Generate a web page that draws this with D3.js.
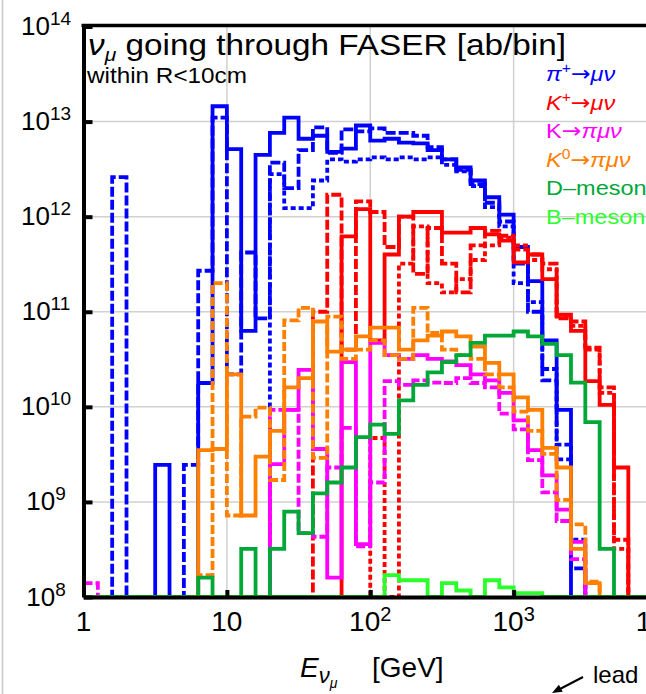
<!DOCTYPE html>
<html>
<head>
<meta charset="utf-8">
<script src="https://cdn.jsdelivr.net/npm/d3@7"></script>
<style>
  body { margin: 0; background: #fff; }
  svg { display: block; font-family: "Liberation Sans", Arial, sans-serif; }
</style>
</head>
<body>
<div id="chart"></div>
<script>
// log10(E/GeV) bins of width 0.1, from 1 GeV to 10^4 GeV
const binEdges = d3.range(0, 41).map(k => Math.pow(10, k / 10));

// nu_mu per bin [ab/bin], 40 bins each (0 = below the plotted range)
const blueSolid = [0,0,0,0,0, 2.45e9,0,0,1.78e10,1.45e13, 5.13e12,6.3e10,4.47e12,7.6e12,1.1e13,
  6.6e12,7.1e12,4.8e12,5.2e12,9.1e12, 6.3e12,6.6e12,6.0e12,5.9e12,5.0e12,
  4.0e12,3.3e12,2.4e12,1.6e12,1.05e12, 4.8e11,2.1e11,5.0e10,9.3e9,0, 0,0,0,0,0];
const blueDash = [0,0,2.6e12,0,0, 0,0,2.45e9,2.7e11,1.1e13, 2.2e10,4.2e11,8.5e10,3.7e12,2.0e12,
  5.0e12,8.7e12,4.7e12,8.3e12,7.9e12, 8.5e12,7.6e12,7.6e12,7.1e12,5.4e12,
  4.0e12,3.1e12,2.2e12,1.4e12,8.9e11, 3.2e11,1.0e11,1.9e10,2.8e9,2.0e8, 0,0,0,0,0];
const blueFine = [0,0,0,0,0, 0,0,0,0,0, 0,0,0,2.8e12,1.23e12,
  1.23e12,2.4e12,4.0e12,3.8e12,4.0e12, 4.2e12,4.0e12,4.2e12,4.0e12,4.2e12,
  3.5e12,3.0e12,2.1e12,1.26e12,7.9e11, 2.0e11,1.26e11,2.5e10,4.0e9,4.0e8, 0,0,0,0,0];

const redSolid = [0,0,0,0,0, 0,0,0,0,0, 0,0,0,0,0,
  0,0,0,6.2e11,1.2e12, 5.0e10,4.0e11,1.0e12,1.12e12,1.12e12,
  6.8e11,6.8e11,7.6e11,6.5e11,5.6e11, 3.3e11,4.0e11,2.2e11,9.3e10,6.3e10, 1.86e10,1.05e10,2.3e9,0,0];
const redDash = [0,0,0,0,0, 0,0,0,0,0, 0,0,0,0,0,
  0,1.0e11,1.7e12,4.0e10,1.45e12, 1.12e12,4.8e11,1.0e12,2.5e11,7.6e11,
  3.2e11,1.6e11,5.0e11,7.1e11,6.3e11, 4.5e11,4.0e11,3.2e11,8.5e10,7.9e10, 4.2e10,1.6e10,4.0e8,0,0];
const redDot = [0,0,0,0,0, 0,0,0,0,0, 0,0,0,0,0,
  0,0,0,0,0, 4.7e9,0,3.2e11,7.9e11,2.0e11,
  1.6e11,2.2e11,3.5e11,5.0e11,6.0e11, 5.0e11,3.5e11,2.8e11,8.9e10,7.1e10, 4.0e10,1.4e10,3.2e8,0,0];

const magSolid = [0,0,0,0,0, 0,0,0,0,0, 0,0,0,2.5e9,9.3e9,
  2.45e10,3.6e9,1.6e8,2.95e10,3.6e8, 4.7e10,3.5e10,3.2e10,3.5e10,3.2e10,
  3.0e10,2.75e10,2.2e10,1.9e10,1.4e10, 7.2e9,3.5e9,1.9e9,8.3e8,3.8e8, 0,0,0,0,0];
const magDash = [1.4e8,0,0,0,0, 0,0,0,0,0, 0,0,0,9.3e9,9.3e9,
  4.7e8,4.3e8,2.3e9,6.0e9,3.4e8, 1.6e9,1.86e10,1.7e10,1.9e10,1.8e10,
  1.78e10,2.0e10,1.78e10,1.6e10,8.5e9, 5.8e9,2.75e9,1.26e9,6.3e8,2.5e8, 0,0,0,0,0];

const orangeSolid = [0,0,0,0,0, 0,0,0,3.5e9,3.6e9, 2.2e10,7.2e8,3.0e9,5.6e9,1.6e10,
  2.0e10,7.9e10,3.8e10,4.0e10,5.5e10, 6.8e10,6.8e10,4.0e10,5.0e10,5.6e10,
  6.2e10,5.5e10,4.3e10,2.9e10,2.2e10, 1.26e10,9.3e9,3.7e9,2.3e9,3.2e8, 1.4e8,0,0,0,0];
const orangeDash = [0,0,0,0,0, 0,0,0,1.7e8,2.0e11, 7.2e8,7.9e9,9.8e9,1.7e9,8.1e10,
  1.1e11,2.9e9,8.9e10,3.2e10,4.0e10, 5.0e10,3.5e10,3.2e10,1.1e11,6.0e10,
  4.0e10,3.5e10,3.2e10,2.2e10,1.6e10, 8.9e9,5.6e9,3.2e9,1.05e9,5.8e8, 1.45e8,0,0,0,0];

const dMeson = [0,0,0,0,0, 0,0,0,1.6e8,0, 0,3.2e8,0,3.2e8,7.9e8,
  4.7e8,1.23e9,1.6e9,2.3e9,4.8e9, 6.5e9,5.2e9,1.17e10,1.7e10,2.3e10,
  2.95e10,3.5e10,4.7e10,5.6e10,5.6e10, 6.2e10,5.5e10,4.6e10,3.5e10,1.8e10, 6.9e9,3.2e8,0,0,0];
const bMeson = [0,0,0,0,0, 0,0,0,0,0, 0,0,0,0,0,
  0,0,0,0,0, 0,1.7e8,1.5e8,1.5e8,0,
  1.4e8,1.17e8,0,1.5e8,1.26e8, 1.1e8,1.1e8,0,0,0, 0,0,0,0,0];

const xTicks = [1, 10, 100, 1000, 10000];
const xTickBase = ["1", "10", "10", "10", "10"];
const xTickExp = ["", "", "2", "3", "4"];
const yTicks = [1e8, 1e9, 1e10, 1e11, 1e12, 1e13, 1e14];
const yTickExp = ["8", "9", "10", "11", "12", "13", "14"];

const legendColors = ["#0000ff", "#ff0000", "#ff00ff", "#ff8000", "#00a838", "#2bff2b"];
const legendLabels = [
  [{t: "π", italic: 1}, {t: "+", size: 14, dy: -8}, {t: "→", dy: 8, arrow: 1}, {t: "μν", italic: 1}],
  [{t: "K", italic: 1}, {t: "+", size: 14, dy: -8}, {t: "→", dy: 8, arrow: 1}, {t: "μν", italic: 1}],
  [{t: "K"}, {t: "→", arrow: 1}, {t: "πμν", italic: 1}],
  [{t: "K", italic: 1}, {t: "0", size: 14, dy: -8}, {t: "→", dy: 8, arrow: 1}, {t: "πμν", italic: 1}],
  [{t: "D–mesons"}],
  [{t: "B–mesons"}]
];

const series = [
  {values: blueSolid, color: legendColors[0], dash: null},
  {values: blueDash, color: legendColors[0], dash: "10,3"},
  {values: blueFine, color: legendColors[0], dash: "5,3"},
  {values: redSolid, color: legendColors[1], dash: null},
  {values: redDash, color: legendColors[1], dash: "10,3"},
  {values: redDot, color: legendColors[1], dash: "5,3"},
  {values: magSolid, color: legendColors[2], dash: null},
  {values: magDash, color: legendColors[2], dash: "9,3"},
  {values: orangeSolid, color: legendColors[3], dash: null},
  {values: orangeDash, color: legendColors[3], dash: "9,3"},
  {values: dMeson, color: legendColors[4], dash: null},
  {values: bMeson, color: legendColors[5], dash: null}
];

const width = 646, height = 694;
const plot = {left: 83.5, right: 657, top: 26.5, bottom: 597};

const x = d3.scaleLog().domain([1, 1e4]).range([plot.left, plot.right]);
const y = d3.scaleLog().domain([1e8, 1e14]).range([plot.bottom, plot.top]);

const svg = d3.select("#chart").append("svg")
  .attr("width", width)
  .attr("height", height);

// thin grey page border on the left
svg.append("line")
  .attr("x1", 2.5).attr("x2", 2.5).attr("y1", 0).attr("y2", height)
  .attr("stroke", "#c8c8c8").attr("stroke-width", 1.5);

svg.append("defs").append("clipPath").attr("id", "plotclip")
  .append("rect")
  .attr("x", plot.left).attr("y", plot.top - 4)
  .attr("width", plot.right - plot.left + 10)
  .attr("height", plot.bottom - plot.top + 4);

// grid
const grid = svg.append("g").attr("stroke", "#d0d0d0").attr("stroke-width", 1.5);
grid.selectAll("line.v")
  .data(xTicks.slice(1))
  .join("line")
  .attr("x1", d => x(d)).attr("x2", d => x(d))
  .attr("y1", plot.top).attr("y2", plot.bottom);
grid.selectAll("line.h")
  .data(yTicks.slice(1, -1))
  .join("line")
  .attr("x1", plot.left).attr("x2", width)
  .attr("y1", d => y(d)).attr("y2", d => y(d));

// histograms
const step = d3.line()
  .curve(d3.curveStepAfter)
  .x(d => x(d[0]))
  .y(d => y(Math.max(d[1], 1e8)));

const histPoints = values => {
  const pts = values.map((v, i) => [binEdges[i], v]);
  pts.push([binEdges[values.length], values[values.length - 1]]);
  return pts;
};

svg.append("g")
  .attr("clip-path", "url(#plotclip)")
  .selectAll("path")
  .data(series)
  .join("path")
  .attr("d", d => step(histPoints(d.values)))
  .attr("fill", "none")
  .attr("stroke", d => d.color)
  .attr("stroke-width", 3.8)
  .attr("stroke-dasharray", d => d.dash);

// axes
const xAxis = svg.append("g")
  .attr("transform", `translate(0,${plot.bottom})`)
  .call(d3.axisBottom(x).tickValues(xTicks).tickSize(-7).tickSizeOuter(0).tickFormat(""));
const yAxis = svg.append("g")
  .attr("transform", `translate(${plot.left},0)`)
  .call(d3.axisLeft(y).tickValues(yTicks).tickSize(-9).tickSizeOuter(0).tickFormat(""));
[xAxis, yAxis].forEach(a => {
  a.select(".domain").attr("stroke", "#000").attr("stroke-width", 4);
  a.selectAll(".tick line").attr("stroke", "#000").attr("stroke-width", 4);
});

// top frame
svg.append("line")
  .attr("x1", plot.left - 2).attr("x2", width)
  .attr("y1", plot.top - 1).attr("y2", plot.top - 1)
  .attr("stroke", "#000").attr("stroke-width", 3.5);

// tick labels
xTicks.forEach((v, i) => {
  const t = svg.append("text")
    .attr("x", x(v)).attr("y", 631)
    .attr("text-anchor", "middle")
    .attr("font-size", 28);
  t.append("tspan").text(xTickBase[i]);
  if (xTickExp[i]) t.append("tspan").attr("font-size", 20).attr("dy", -10).text(xTickExp[i]);
});
yTicks.forEach((v, i) => {
  const t = svg.append("text")
    .attr("x", 46).attr("y", y(v) + 8.5)
    .attr("text-anchor", "middle")
    .attr("font-size", 26);
  t.append("tspan").text("10");
  t.append("tspan").attr("font-size", 19).attr("dy", -10).text(yTickExp[i]);
});

function richText(px, py, opts, parts) {
  const t = svg.append("text")
    .attr("transform", `translate(${px},${py}) scale(${opts.sx || 1},1)`)
    .attr("font-size", opts.size)
    .attr("fill", opts.color || "#000");
  parts.forEach(p => {
    const s = t.append("tspan").text(p.t);
    if (p.italic) s.attr("font-style", "italic");
    if (p.size) s.attr("font-size", p.size);
    if (p.dy) s.attr("dy", p.dy);
    if (p.x !== undefined) s.attr("x", p.x);
    if (p.arrow) s.attr("font-family", "DejaVu Sans");
  });
  return t;
}

// title
richText(88, 55, {size: 30, sx: 1.11}, [
  {t: "ν", italic: 1},
  {t: "μ", italic: 1, size: 19, dy: 6},
  {t: " going through FASER [ab/bin]", dy: -6}
]);
richText(87, 83, {size: 21.5, sx: 1.13}, [{t: "within R<10cm"}]);

// legend
legendLabels.forEach((parts, i) => {
  richText(546, 81 + i * 28.5, {size: 21, sx: 1.12, color: legendColors[i]}, parts);
});

// x axis title
richText(300, 677, {size: 28}, [
  {t: "E", italic: 1},
  {t: "ν", italic: 1, size: 22, dy: 6},
  {t: "μ", italic: 1, size: 14, dy: 5},
  {t: "[GeV]", dy: -11, x: 72}
]);

// "lead" note with arrow
richText(593, 683, {size: 24}, [{t: "lead"}]);
svg.append("line")
  .attr("x1", 583).attr("y1", 677).attr("x2", 559).attr("y2", 689.5)
  .attr("stroke", "#000").attr("stroke-width", 2);
svg.append("path")
  .attr("d", "M552,693 L562.7,691.8 L558.9,684.8 Z")
  .attr("fill", "#000");
</script>
</body>
</html>
